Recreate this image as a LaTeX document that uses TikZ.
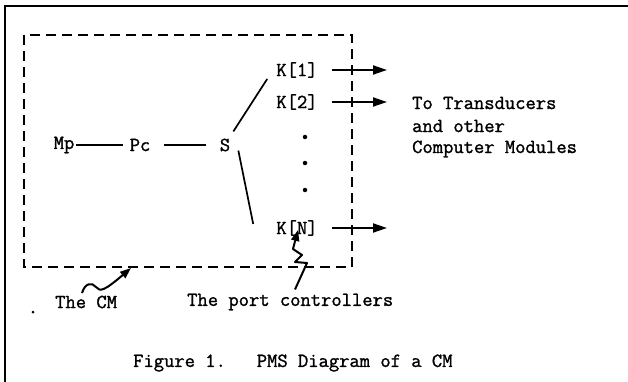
\documentclass[tikz,border=0pt]{standalone}
\usepackage{fontspec}
\newfontfamily\typew[FakeBold=1.3]{Latin Modern Mono}
\usetikzlibrary{arrows.meta}
\begin{document}
\begin{tikzpicture}[x=1pt,y=-1pt,
  lbl/.style={font=\typew\fontsize{20}{23}\selectfont, inner sep=1pt},
  conn/.style={line width=1.7pt},
  cmbox/.style={line width=2.4pt, dash pattern=on 10pt off 6pt},
  outerframe/.style={line width=2pt},
  outarrow/.style={line width=1.9pt, -{Triangle[length=14pt,width=9pt]}},
  pointer/.style={line width=2pt, -{Triangle[length=11pt,width=8pt]}},
  dotmark/.style={circle, fill, inner sep=0pt, minimum size=4.5pt}]
\useasboundingbox (0,0) rectangle (628,382);
% outer frame (left and top only)
\draw[outerframe] (5,382) -- (5,6) -- (628,6);
% the CM dashed box
\draw[cmbox] (24,35) rectangle (352,267);
% nodes
\node[lbl] (mp) at (64,145) {Mp};
\node[lbl] (pc) at (140,145) {Pc};
\node[lbl] (s) at (225,145) {S};
\node[lbl] (k1) at (297,70) {K[1]};
\node[lbl] (k2) at (297,102) {K[2]};
\node[lbl] (kn) at (297,228) {K[N]};
\node[dotmark] (d1) at (305,137) {};
\node[dotmark] (d2) at (305,163) {};
\node[dotmark] (d3) at (305,190) {};
% connectors
\draw[conn, shorten >=6pt] (mp.east) -- (pc.west);
\draw[conn, shorten <=12pt, shorten >=13pt] (pc.east) -- (s.west);
\draw[conn] ([shift={(2,-6)}]s.north east) -- ([shift={(-8,0)}]k1.south west);
\draw[conn] ([shift={(7,-2)}]s.south east) -- ([shift={(-22,-4)}]kn.west);
% outgoing arrows
\coordinate (e1) at (387,70);
\coordinate (e2) at (387,102);
\coordinate (en) at (387,228);
\draw[outarrow, shorten <=13pt] (k1.east) -- (e1);
\draw[outarrow, shorten <=13pt] (k2.east) -- (e2);
\draw[outarrow, shorten <=13pt] (kn.east) -- (en);
% right text
\node[lbl, anchor=west] (tt) at (411,103) {To Transducers};
\node[lbl, anchor=west] (ao) at (411,126) {and other};
\node[lbl, anchor=west] (cmods) at (411,149) {Computer Modules};
% bottom labels
\node[dotmark, minimum size=3pt] (dot) at (33,312) {};
\node[lbl, anchor=west] (thecm) at (54,302) {The CM};
\node[lbl, anchor=west] (tpc) at (186,302) {The port controllers};
% squiggle pointer to the CM box
\coordinate (cmb) at (131,268);
\draw[pointer] (82,293) .. controls (85,283) and (92,282) .. (96,287) .. controls (100,292) and (104,291) .. (cmb);
% squiggle pointer to K[N]
\draw[pointer, line join=round] ([shift={(109,-3)}]tpc.north west) -- (307,263) -- (295,262) -- (302,255) -- (293,249) -- ([shift={(1,-7)}]kn.south);
% caption
\node[lbl, anchor=west] (cap) at (132,363) {Figure 1.\ \ \ PMS Diagram of a CM};
\end{tikzpicture}
\end{document}
